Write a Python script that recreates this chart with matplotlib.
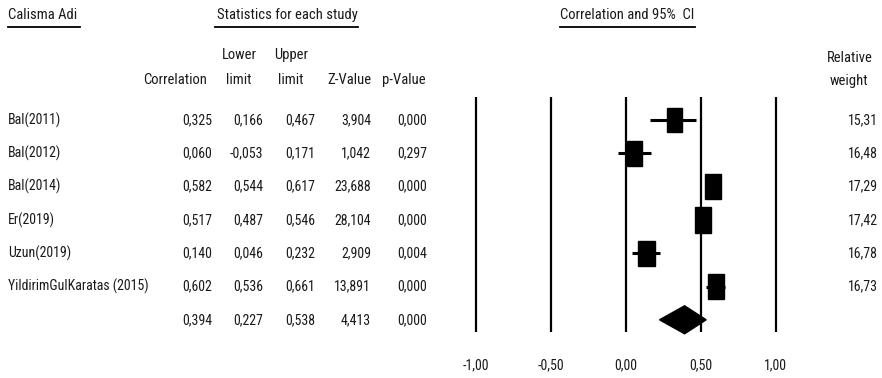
import matplotlib
matplotlib.use('Agg')
import matplotlib.pyplot as plt
from matplotlib.patches import Rectangle, Polygon

plt.rcParams['font.family'] = ['Roboto Condensed', 'Archivo Narrow', 'DejaVu Sans']
fs = 10.5      # headers
fs_num = 10    # numbers
fs_name = 10   # study names
tc = '#1a1a1a'

# data
studies = ['Bal(2011)', 'Bal(2012)', 'Bal(2014)', 'Er(2019)', 'Uzun(2019)',
           'YildirimGulKaratas (2015)']
corr = [0.325, 0.060, 0.582, 0.517, 0.140, 0.602]
lower = [0.166, -0.053, 0.544, 0.487, 0.046, 0.536]
upper = [0.467, 0.171, 0.617, 0.546, 0.232, 0.661]
zval = [3.904, 1.042, 23.688, 28.104, 2.909, 13.891]
pval = [0.000, 0.297, 0.000, 0.000, 0.004, 0.000]
weight = [15.31, 16.48, 17.29, 17.42, 16.78, 16.73]
summary = {'corr': 0.394, 'lower': 0.227, 'upper': 0.538, 'z': 4.413, 'p': 0.000}
ticks = [-1.0, -0.5, 0.0, 0.5, 1.0]


def fmt(v):
    return f'{v:.3f}'.replace('.', ',')


def fmt2(v):
    return f'{v:.2f}'.replace('.', ',')


fig = plt.figure(figsize=(8.82, 3.78), dpi=100)

# text layer in pixel coordinates
tab = fig.add_axes([0, 0, 1, 1])
tab.set_xlim(0, 882)
tab.set_ylim(378, 0)
tab.axis('off')

row0 = 120
dy = 33.3

# top headers with underline
tab.text(8, 15, 'Calisma Adi', fontsize=fs, ha='left', va='center', color=tc)
tab.plot([8, 80], [27, 27], color='black', lw=1.3)
tab.text(287, 15, 'Statistics for each study', fontsize=fs, ha='center', va='center', color=tc)
tab.plot([215, 358], [27, 27], color='black', lw=1.3)
tab.text(627, 15, 'Correlation and 95%  CI', fontsize=fs, ha='center', va='center', color=tc)
tab.plot([560, 695], [27, 27], color='black', lw=1.3)

# column headers
tab.text(207, 80, 'Correlation', fontsize=fs, ha='right', va='center', color=tc)
tab.text(239, 55, 'Lower', fontsize=fs, ha='center', va='center', color=tc)
tab.text(239, 80, 'limit', fontsize=fs, ha='center', va='center', color=tc)
tab.text(291, 55, 'Upper', fontsize=fs, ha='center', va='center', color=tc)
tab.text(291, 80, 'limit', fontsize=fs, ha='center', va='center', color=tc)
tab.text(371, 80, 'Z-Value', fontsize=fs, ha='right', va='center', color=tc)
tab.text(382, 80, 'p-Value', fontsize=fs, ha='left', va='center', color=tc)
tab.text(850, 58, 'Relative', fontsize=fs, ha='center', va='center', color=tc)
tab.text(849, 81, 'weight', fontsize=fs, ha='center', va='center', color=tc)

cols = [212, 263, 315, 371, 427]
for i, name in enumerate(studies):
    y = row0 + dy * i
    tab.text(8, y, name, fontsize=fs_name, ha='left', va='center', color=tc)
    vals = [corr[i], lower[i], upper[i], zval[i], pval[i]]
    for x, v in zip(cols, vals):
        tab.text(x, y, fmt(v), fontsize=fs_num, ha='right', va='center', color=tc)
    tab.text(878, y, fmt2(weight[i]), fontsize=fs_num, ha='right', va='center', color=tc)

y = row0 + dy * len(studies)
for x, k in zip(cols, ['corr', 'lower', 'upper', 'z', 'p']):
    tab.text(x, y, fmt(summary[k]), fontsize=fs_num, ha='right', va='center', color=tc)

# forest plot
x0_px, x1_px = 460, 800
y0_px, y1_px = 90, 345
ax = fig.add_axes([x0_px / 882, (378 - y1_px) / 378,
                   (x1_px - x0_px) / 882, (y1_px - y0_px) / 378])
ax.set_xlim((x0_px - 625.5) / 150, (x1_px - 625.5) / 150)
ax.set_ylim((y1_px - row0) / dy, (y0_px - row0) / dy)
ax.axis('off')

ax.vlines(ticks, -0.69, 6.36, color='black', lw=1.6)

base_w = 16 / 150
base_h = 25 / dy
mean_w = sum(weight) / len(weight)
for i in range(len(studies)):
    ax.hlines(i, lower[i], upper[i], color='black', lw=2.2)
    s = (weight[i] / mean_w) ** 0.5
    w, h = base_w * s, base_h * s
    ax.add_patch(Rectangle((corr[i] - w / 2, i - h / 2), w, h,
                           facecolor='black', edgecolor='black'))

n = len(studies)
hh = 14 / dy
ax.add_patch(Polygon([(summary['lower'], n), (summary['corr'], n - hh),
                      (summary['upper'], n), (summary['corr'], n + hh)],
                     closed=True, facecolor='black', edgecolor='black'))

for t in ticks:
    ax.text(t, (365 - row0) / dy, fmt2(t), fontsize=fs_num, ha='center',
            va='center', clip_on=False, color=tc)

fig.savefig('out.png', dpi=100)
